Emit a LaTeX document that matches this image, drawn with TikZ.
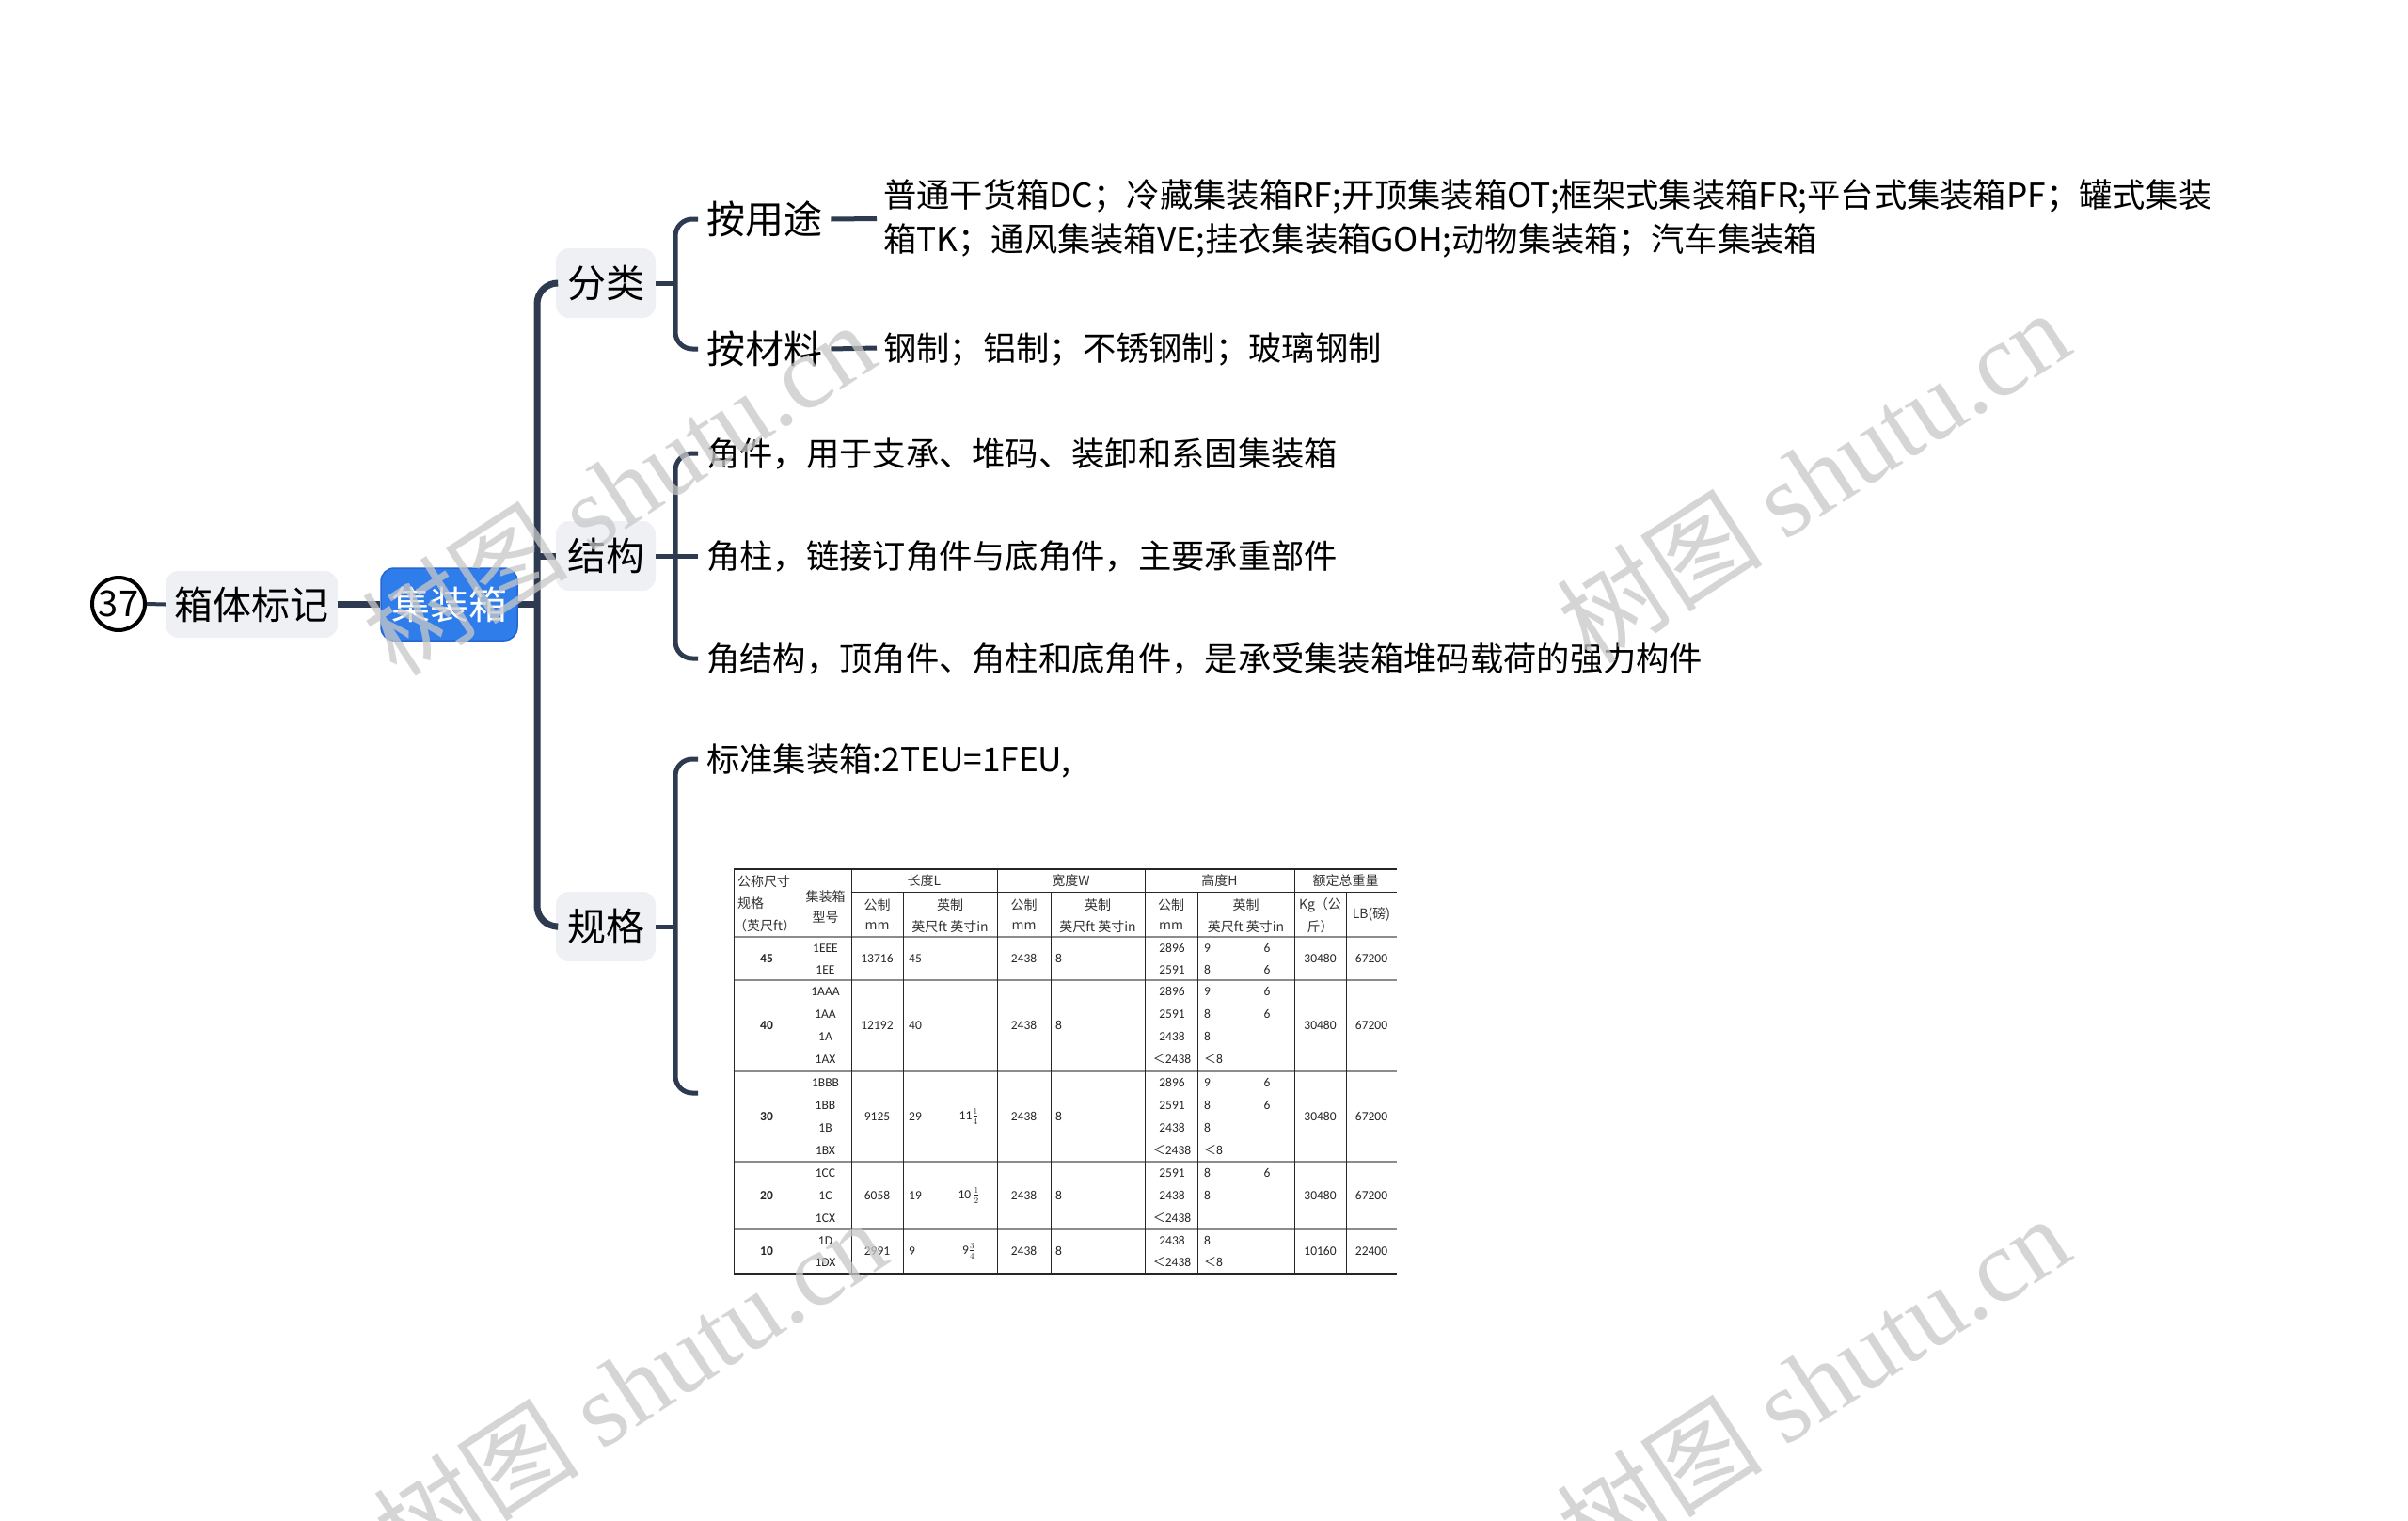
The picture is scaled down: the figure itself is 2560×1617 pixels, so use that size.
\documentclass[tikz,border=0pt]{standalone}
\usepackage{fontspec}
\setmainfont{Noto Sans CJK SC}
\newfontfamily\tblfont{Carlito}
\newfontfamily\wmfont{Liberation Serif}
\definecolor{lncol}{HTML}{2E3A4F}
\definecolor{boxgray}{HTML}{EEF0F4}
\definecolor{boxblue}{HTML}{2F7CEB}
\definecolor{boxblueedge}{HTML}{2566D2}
\definecolor{rowline}{HTML}{8C8C8C}
\definecolor{wmgray}{HTML}{C8C8C8}
\newcommand\ltsym{{\rmfamily\fontsize{13}{15}\selectfont ＜}}
\tikzset{
  lblfont/.style={font=\fontsize{41}{49}\selectfont, text height=34, text depth=3},
  gbox/.style={lblfont, fill=boxgray, rounded corners=14, inner sep=0},
  bbox/.style={lblfont, fill=boxblue, draw=boxblueedge, line width=1.5, text=white, rounded corners=14, inner sep=0},
  numcirc/.style={circle, draw=black, line width=4, fill=white, minimum size=56, inner sep=0, font=\fontsize{38}{44}\selectfont},
  sublbl/.style={lblfont, inner xsep=9, inner ysep=0, anchor=west},
  desc/.style={font=\fontsize{35.3}{47}\selectfont, text height=29.3, text depth=2.5, inner xsep=7, inner ysep=0, anchor=west},
  desctwo/.style={font=\fontsize{35.3}{47}\selectfont, align=left, inner xsep=7, inner ysep=0, anchor=west},
  leaf/.style={desc, inner xsep=9},
  connA/.style={draw=lncol, line width=7},
  connB/.style={draw=lncol, line width=5},
  connC/.style={draw=lncol, line width=4},
  th/.style={font=\fontsize{14}{16}\selectfont, inner sep=0, text=black!80},
  tn/.style={font=\tblfont\fontsize{13.5}{15}\selectfont, inner sep=0, text=black!85},
  tnb/.style={tn, font=\tblfont\bfseries\fontsize{13.5}{15}\selectfont},
  tgrid/.style={draw=black!85, line width=1},
  trow/.style={draw=rowline, line width=2.5},
  wm/.style={text=wmgray, text opacity=0.75, inner sep=0, font=\fontsize{110}{120}\selectfont, rotate=33},
}
\begin{document}
\begin{tikzpicture}[x=1pt,y=-1pt]
\useasboundingbox[fill=white] (0,0) rectangle (2560,1617);

% ---- main nodes
\node[numcirc] (n37) at (126,642) {37};
\node[gbox, minimum width=183, minimum height=71] (xtbj) at (267.5,642.5) {箱体标记};
\node[bbox, minimum width=145, minimum height=77] (jzx) at (477.5,642.5) {集装箱};
\node[gbox, minimum width=106, minimum height=74] (fl) at (644,301) {分类};
\node[gbox, minimum width=106, minimum height=74] (jg) at (644,591) {结构};
\node[gbox, minimum width=106, minimum height=74] (gg) at (644,985) {规格};

\node[sublbl] (yt) at (742,233) {按用途};
\node[sublbl] (cl) at (742,371) {按材料};
\node[desctwo] (ytd) at (932,232.5) {普通干货箱DC；冷藏集装箱RF;开顶集装箱OT;框架式集装箱FR;平台式集装箱PF；罐式集装\\箱TK；通风集装箱VE;挂衣集装箱GOH;动物集装箱；汽车集装箱};
\node[desc] (cld) at (932,370) {钢制；铝制；不锈钢制；玻璃钢制};

\node[leaf] (j1) at (742,482) {角件，用于支承、堆码、装卸和系固集装箱};
\node[leaf] (j2) at (742,591) {角柱，链接订角件与底角件，主要承重部件};
\node[leaf] (j3) at (742,700) {角结构，顶角件、角柱和底角件，是承受集装箱堆码载荷的强力构件};

\node[leaf] (bz) at (742,807) {标准集装箱:2TEU=1FEU,};
\node[minimum width=758, minimum height=476, inner sep=0, anchor=west] (tbl) at (742,1162) {};

% ---- connectors
\coordinate (tr) at (571,642.5);
\coordinate (b1) at (718,301);
\coordinate (b2) at (718,591);
\coordinate (b3) at (718,985);
\draw[connC] (n37.east) -- (xtbj.west);
\draw[connA] (xtbj.east) -- (jzx.west);
\draw[connA] (jzx.east) -- (tr);
\draw[connA, rounded corners=22] (fl.west) -| (tr) |- (gg.west);
\draw[connA] (tr |- jg.west) -- (jg.west);

\draw[connB] (fl.east) -- (b1);
\draw[connB, rounded corners=18] (yt.west) -| (b1) |- (cl.west);
\draw[connB] (yt.east) -- (ytd.west);
\draw[connB] (cl.east) -- (cld.west);

\draw[connB] (jg.east) -- (b2);
\draw[connB, rounded corners=18] (j1.west) -| (b2) |- (j3.west);
\draw[connB] (b2) -- (j2.west);

\draw[connB] (gg.east) -- (b3);
\draw[connB, rounded corners=18] (bz.west) -| (b3) |- (tbl.west);

% ---- table grid
\draw[tgrid, line width=1.3] (780,924) -- (1485,924);
\draw[tgrid, line width=0.8] (905,948) -- (1485,948);
\foreach \yy in {996,1042,1139,1235,1307} \draw[trow] (780,\yy) -- (1485,\yy);
\draw[tgrid, line width=2] (780,1354) -- (1485,1354);
\foreach \xx in {780,850,905,1060,1217,1376} \draw[tgrid] (\xx,924) -- (\xx,1354);
\foreach \xx in {960,1117,1273,1431} \draw[tgrid] (\xx,948) -- (\xx,1354);

% ---- table header
\node[th, anchor=west] (hA) at (784,937) {公称尺寸};
\node[th, anchor=west] (hB) at (784,960) {规格};
\node[th, anchor=west] (hC) at (780,984) {（英尺ft）};
\foreach \t/\x/\y [count=\i] in {
  集装箱/877.5/953, 型号/877.5/975,
  长度L/982.5/936, 宽度W/1138.5/936, 高度H/1296.5/936, 额定总重量/1430.5/936,
  公制/932.5/962, mm/932.5/985, 英制/1010/962, 英尺ft\ 英寸in/1010/985,
  公制/1088.5/962, mm/1088.5/985, 英制/1167/962, 英尺ft\ 英寸in/1167/985,
  公制/1245/962, mm/1245/985, 英制/1324.5/962, 英尺ft\ 英寸in/1324.5/985,
  Kg（公/1403.5/962, 斤）/1403.5/985, LB(磅)/1458/972}
  \node[th] (h\i) at (\x,\y) {\t};

% ---- table body
\foreach \t/\y [count=\i] in {45/1019, 40/1090, 30/1187, 20/1271, 10/1330}
  \node[tnb] (s\i) at (815,\y) {\t};
\foreach \t/\y [count=\i] in {1EEE/1008, 1EE/1031, 1AAA/1054, 1AA/1078, 1A/1102, 1AX/1126,
  1BBB/1151, 1BB/1175, 1B/1199, 1BX/1223, 1CC/1247, 1C/1271, 1CX/1295, 1D/1319, 1DX/1342}
  \node[tn] (c\i) at (877.5,\y) {\t};
\foreach \t/\y [count=\i] in {13716/1019, 12192/1090, 9125/1187, 6058/1271, 2991/1330}
  \node[tn] (lm\i) at (932.5,\y) {\t};
\foreach \t/\y [count=\i] in {45/1019, 40/1090, 29/1187, 19/1271, 9/1330}
  \node[tn, anchor=west] (lf\i) at (966,\y) {\t};
\node[tn] (li1) at (1030,1187) {11$\frac{1}{4}$};
\node[tn] (li2) at (1030,1271) {10\,$\frac{1}{2}$};
\node[tn] (li3) at (1030,1330) {9$\frac{3}{4}$};
\foreach \y [count=\i] in {1019,1090,1187,1271,1330} {
  \node[tn] (wm\i) at (1088.5,\y) {2438};
  \node[tn, anchor=west] (wf\i) at (1122,\y) {8};
  }
\foreach \t/\y [count=\i] in {2896/1008, 2591/1031, 2896/1054, 2591/1078, 2438/1102, \ltsym2438/1126,
  2896/1151, 2591/1175, 2438/1199, \ltsym2438/1223, 2591/1247, 2438/1271, \ltsym2438/1295,
  2438/1319, \ltsym2438/1342}
  \node[tn] (hm\i) at (1246,\y) {\t};
\foreach \t/\y [count=\i] in {9/1008, 8/1031, 9/1054, 8/1078, 8/1102, \ltsym8/1126,
  9/1151, 8/1175, 8/1199, \ltsym8/1223, 8/1247, 8/1271, 8/1319, \ltsym8/1342}
  \node[tn, anchor=west] (hf\i) at (1280,\y) {\t};
\foreach \y [count=\i] in {1008,1031,1054,1078,1151,1175,1247}
  \node[tn] (hi\i) at (1347,\y) {6};
\foreach \a/\b/\y [count=\i] in {30480/67200/1019, 30480/67200/1090, 30480/67200/1187, 30480/67200/1271, 10160/22400/1330} {
  \node[tn] (kg\i) at (1403.5,\y) {\a};
  \node[tn] (lb\i) at (1458,\y) {\b};
  }

% ---- watermarks
\node[wm] (w1) at (657,519) {树图 {\wmfont shutu.cn}};
\node[wm] (w2) at (1927,506) {树图 {\wmfont shutu.cn}};
\node[wm] (w3) at (669,1473) {树图 {\wmfont shutu.cn}};
\node[wm] (w4) at (1927,1469) {树图 {\wmfont shutu.cn}};
\end{tikzpicture}
\end{document}
